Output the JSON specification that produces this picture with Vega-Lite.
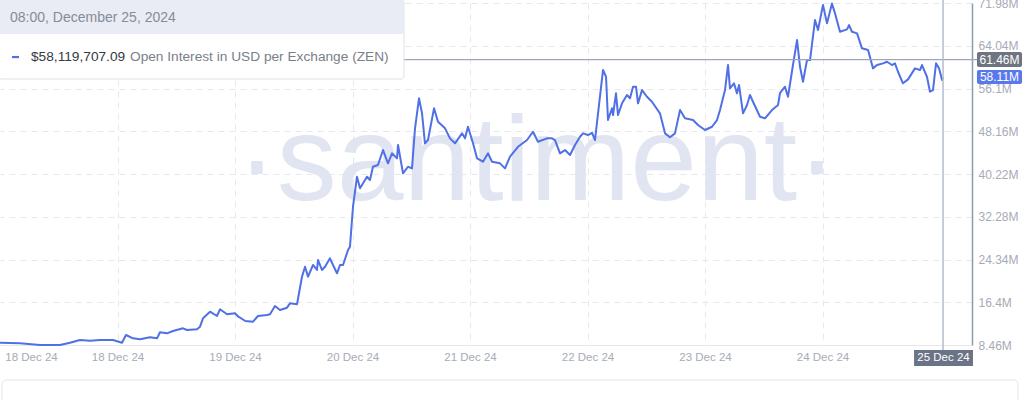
{
  "$schema": "https://vega.github.io/schema/vega-lite/v6.json",
  "width": 972,
  "height": 342,
  "autosize": {"type": "none"},
  "padding": {"left": 0, "top": 3, "right": 52, "bottom": 55},
  "background": "white",
  "config": {"view": {"stroke": null}, "font": "Liberation Sans"},
  "encoding": {
    "x": {
      "field": "t", "type": "temporal", "title": null,
      "scale": {"domain": [{"year": 2024, "month": 12, "date": 17}, {"year": 2024, "month": 12, "date": 25, "hours": 6, "minutes": 32}], "nice": false},
      "axis": {
        "values": [
          {"year": 2024, "month": 12, "date": 17, "hours": 6, "minutes": 20},
          {"year": 2024, "month": 12, "date": 18},
          {"year": 2024, "month": 12, "date": 19},
          {"year": 2024, "month": 12, "date": 20},
          {"year": 2024, "month": 12, "date": 21},
          {"year": 2024, "month": 12, "date": 22},
          {"year": 2024, "month": 12, "date": 23},
          {"year": 2024, "month": 12, "date": 24}
        ],
        "labelExpr": "datum.value < datetime(2024, 11, 17, 12) ? '18 Dec 24' : timeFormat(datum.value, '%d %b %y')",
        "grid": true, "gridDash": [6, 5], "gridColor": "#e6e8ee",
        "gridOpacity": {"condition": {"test": "datum.value < datetime(2024, 11, 17, 12)", "value": 0}, "value": 1},
        "ticks": false, "domainColor": "#e6e8ee",
        "labelColor": "#a6abb6", "labelFontSize": 11.5, "labelPadding": 6,
        "labelOverlap": false, "labelFlush": false
      }
    },
    "y": {
      "field": "v", "type": "quantitative", "title": null,
      "scale": {"domain": [8.46, 71.98], "nice": false, "zero": false},
      "axis": {
        "orient": "right",
        "values": [8.46, 16.4, 24.34, 32.28, 40.22, 48.16, 56.1, 64.04, 71.98],
        "labelExpr": "datum.value + 'M'",
        "grid": true, "gridDash": [6, 5], "gridColor": "#e6e8ee",
        "ticks": false, "domainColor": "#8d9ab4", "domainWidth": 1.5,
        "labelColor": "#a6abb6", "labelFontSize": 12, "labelPadding": 6,
        "labelOverlap": false, "labelFlush": false
      }
    }
  },
  "layer": [
    {
      "data": {"values": [{"t": "2024-12-21T13:41", "v": 35.39, "label": "·santiment·"}]},
      "mark": {"type": "text", "fontSize": 120, "color": "#e1e4f1", "align": "center", "baseline": "alphabetic"},
      "encoding": {"text": {"field": "label"}}
    },
    {
      "data": {"values": [
        {"t": "2024-12-17T00:00", "v": 8.89}, {"t": "2024-12-17T04:05", "v": 8.78}, {"t": "2024-12-17T08:10", "v": 8.46},
        {"t": "2024-12-17T12:15", "v": 8.46}, {"t": "2024-12-17T14:18", "v": 8.89}, {"t": "2024-12-17T16:20", "v": 9.39},
        {"t": "2024-12-17T18:23", "v": 9.26}, {"t": "2024-12-17T20:26", "v": 9.39}, {"t": "2024-12-17T23:05", "v": 9.39},
        {"t": "2024-12-18T00:55", "v": 8.89}, {"t": "2024-12-18T01:44", "v": 10.32}, {"t": "2024-12-18T03:10", "v": 9.70},
        {"t": "2024-12-18T04:36", "v": 9.52}, {"t": "2024-12-18T06:38", "v": 9.89}, {"t": "2024-12-18T08:04", "v": 9.70},
        {"t": "2024-12-18T08:41", "v": 10.82}, {"t": "2024-12-18T10:07", "v": 10.63}, {"t": "2024-12-18T11:20", "v": 11.06},
        {"t": "2024-12-18T13:23", "v": 11.56}, {"t": "2024-12-18T14:12", "v": 11.25}, {"t": "2024-12-18T16:14", "v": 11.38},
        {"t": "2024-12-18T16:51", "v": 11.86}, {"t": "2024-12-18T17:28", "v": 13.42}, {"t": "2024-12-18T18:54", "v": 14.64},
        {"t": "2024-12-18T20:19", "v": 13.85}, {"t": "2024-12-18T20:56", "v": 15.09}, {"t": "2024-12-18T22:22", "v": 14.16},
        {"t": "2024-12-19T00:00", "v": 14.35}, {"t": "2024-12-19T00:41", "v": 13.72}, {"t": "2024-12-19T02:07", "v": 12.92},
        {"t": "2024-12-19T03:41", "v": 12.79}, {"t": "2024-12-19T04:42", "v": 13.85}, {"t": "2024-12-19T06:32", "v": 14.03},
        {"t": "2024-12-19T07:09", "v": 14.16}, {"t": "2024-12-19T08:10", "v": 15.70}, {"t": "2024-12-19T09:11", "v": 14.96},
        {"t": "2024-12-19T10:37", "v": 15.39}, {"t": "2024-12-19T11:14", "v": 16.20}, {"t": "2024-12-19T12:40", "v": 16.02},
        {"t": "2024-12-19T13:41", "v": 21.14}, {"t": "2024-12-19T14:18", "v": 23.00}, {"t": "2024-12-19T14:55", "v": 21.14},
        {"t": "2024-12-19T15:56", "v": 23.32}, {"t": "2024-12-19T16:45", "v": 22.39}, {"t": "2024-12-19T16:57", "v": 24.25},
        {"t": "2024-12-19T17:46", "v": 22.39}, {"t": "2024-12-19T18:23", "v": 23.00}, {"t": "2024-12-19T19:24", "v": 24.56},
        {"t": "2024-12-19T20:01", "v": 23.32}, {"t": "2024-12-19T20:50", "v": 21.78}, {"t": "2024-12-19T21:27", "v": 23.32},
        {"t": "2024-12-19T22:04", "v": 23.32}, {"t": "2024-12-19T23:05", "v": 26.10}, {"t": "2024-12-19T23:29", "v": 26.71},
        {"t": "2024-12-20T00:06", "v": 34.14}, {"t": "2024-12-20T00:55", "v": 39.71}, {"t": "2024-12-20T01:32", "v": 37.56},
        {"t": "2024-12-20T02:58", "v": 39.71}, {"t": "2024-12-20T03:34", "v": 39.10}, {"t": "2024-12-20T04:11", "v": 41.57},
        {"t": "2024-12-20T05:12", "v": 41.89}, {"t": "2024-12-20T06:14", "v": 44.67}, {"t": "2024-12-20T07:15", "v": 42.20},
        {"t": "2024-12-20T08:04", "v": 44.06}, {"t": "2024-12-20T09:05", "v": 43.13}, {"t": "2024-12-20T09:18", "v": 45.60},
        {"t": "2024-12-20T10:19", "v": 40.35}, {"t": "2024-12-20T11:20", "v": 41.57}, {"t": "2024-12-20T12:09", "v": 41.27},
        {"t": "2024-12-20T12:46", "v": 48.70}, {"t": "2024-12-20T13:35", "v": 54.27}, {"t": "2024-12-20T14:12", "v": 51.49},
        {"t": "2024-12-20T14:48", "v": 45.92}, {"t": "2024-12-20T15:25", "v": 46.53}, {"t": "2024-12-20T16:39", "v": 52.42},
        {"t": "2024-12-20T17:28", "v": 49.93}, {"t": "2024-12-20T18:54", "v": 48.70}, {"t": "2024-12-20T19:55", "v": 46.84},
        {"t": "2024-12-20T20:56", "v": 45.92}, {"t": "2024-12-20T22:22", "v": 47.77}, {"t": "2024-12-20T22:59", "v": 46.84},
        {"t": "2024-12-20T23:35", "v": 49.00}, {"t": "2024-12-21T00:37", "v": 45.92}, {"t": "2024-12-21T01:26", "v": 43.13},
        {"t": "2024-12-21T02:39", "v": 42.50}, {"t": "2024-12-21T03:41", "v": 44.06}, {"t": "2024-12-21T04:30", "v": 42.50},
        {"t": "2024-12-21T06:08", "v": 42.20}, {"t": "2024-12-21T07:09", "v": 41.27}, {"t": "2024-12-21T08:10", "v": 43.43},
        {"t": "2024-12-21T09:48", "v": 45.28}, {"t": "2024-12-21T11:39", "v": 46.53}, {"t": "2024-12-21T12:52", "v": 48.07},
        {"t": "2024-12-21T13:53", "v": 46.21}, {"t": "2024-12-21T15:44", "v": 46.84}, {"t": "2024-12-21T16:45", "v": 46.84},
        {"t": "2024-12-21T17:22", "v": 46.53}, {"t": "2024-12-21T18:23", "v": 44.06}, {"t": "2024-12-21T19:24", "v": 44.67},
        {"t": "2024-12-21T20:26", "v": 43.74}, {"t": "2024-12-21T21:27", "v": 45.60}, {"t": "2024-12-21T22:28", "v": 47.14},
        {"t": "2024-12-21T23:05", "v": 47.77}, {"t": "2024-12-22T00:06", "v": 47.46}, {"t": "2024-12-22T00:55", "v": 47.88},
        {"t": "2024-12-22T01:32", "v": 46.53}, {"t": "2024-12-22T02:09", "v": 51.49}, {"t": "2024-12-22T03:10", "v": 59.53},
        {"t": "2024-12-22T03:47", "v": 58.28}, {"t": "2024-12-22T04:11", "v": 50.24}, {"t": "2024-12-22T05:00", "v": 52.42},
        {"t": "2024-12-22T05:13", "v": 51.17}, {"t": "2024-12-22T05:49", "v": 55.20}, {"t": "2024-12-22T06:14", "v": 51.17},
        {"t": "2024-12-22T07:03", "v": 53.34}, {"t": "2024-12-22T08:04", "v": 54.89}, {"t": "2024-12-22T08:41", "v": 54.27},
        {"t": "2024-12-22T09:18", "v": 56.43}, {"t": "2024-12-22T09:54", "v": 56.43}, {"t": "2024-12-22T10:19", "v": 53.34},
        {"t": "2024-12-22T11:08", "v": 55.81}, {"t": "2024-12-22T12:09", "v": 54.57}, {"t": "2024-12-22T13:10", "v": 53.64},
        {"t": "2024-12-22T14:48", "v": 51.49}, {"t": "2024-12-22T15:50", "v": 47.77}, {"t": "2024-12-22T16:51", "v": 47.03},
        {"t": "2024-12-22T17:52", "v": 47.77}, {"t": "2024-12-22T18:54", "v": 52.10}, {"t": "2024-12-22T19:55", "v": 50.56},
        {"t": "2024-12-22T21:33", "v": 50.24}, {"t": "2024-12-22T22:34", "v": 49.31}, {"t": "2024-12-23T00:00", "v": 48.39},
        {"t": "2024-12-23T01:26", "v": 49.00}, {"t": "2024-12-23T02:27", "v": 50.24}, {"t": "2024-12-23T03:04", "v": 52.10},
        {"t": "2024-12-23T04:05", "v": 55.81}, {"t": "2024-12-23T04:42", "v": 60.46}, {"t": "2024-12-23T05:06", "v": 56.13},
        {"t": "2024-12-23T05:55", "v": 57.06}, {"t": "2024-12-23T06:32", "v": 55.20}, {"t": "2024-12-23T06:57", "v": 56.74},
        {"t": "2024-12-23T07:46", "v": 51.49}, {"t": "2024-12-23T08:35", "v": 53.03}, {"t": "2024-12-23T09:11", "v": 54.89},
        {"t": "2024-12-23T09:48", "v": 53.64}, {"t": "2024-12-23T11:14", "v": 50.86}, {"t": "2024-12-23T12:15", "v": 50.56},
        {"t": "2024-12-23T13:41", "v": 52.10}, {"t": "2024-12-23T14:55", "v": 53.03}, {"t": "2024-12-23T15:19", "v": 55.26},
        {"t": "2024-12-23T16:20", "v": 56.43}, {"t": "2024-12-23T16:57", "v": 54.57}, {"t": "2024-12-23T17:58", "v": 60.46},
        {"t": "2024-12-23T18:48", "v": 65.10}, {"t": "2024-12-23T19:24", "v": 60.14}, {"t": "2024-12-23T20:01", "v": 57.36},
        {"t": "2024-12-23T20:50", "v": 61.39}, {"t": "2024-12-23T21:27", "v": 61.39}, {"t": "2024-12-23T22:28", "v": 68.81},
        {"t": "2024-12-23T23:05", "v": 66.96}, {"t": "2024-12-24T00:06", "v": 71.60}, {"t": "2024-12-24T00:55", "v": 68.20},
        {"t": "2024-12-24T01:56", "v": 71.90}, {"t": "2024-12-24T02:33", "v": 70.06}, {"t": "2024-12-24T03:34", "v": 66.64},
        {"t": "2024-12-24T05:00", "v": 67.09}, {"t": "2024-12-24T05:25", "v": 67.88}, {"t": "2024-12-24T06:01", "v": 66.64},
        {"t": "2024-12-24T07:03", "v": 66.34}, {"t": "2024-12-24T08:04", "v": 63.56}, {"t": "2024-12-24T09:18", "v": 63.24},
        {"t": "2024-12-24T10:19", "v": 59.84}, {"t": "2024-12-24T11:08", "v": 60.46}, {"t": "2024-12-24T12:22", "v": 60.77},
        {"t": "2024-12-24T13:10", "v": 61.07}, {"t": "2024-12-24T14:12", "v": 60.46}, {"t": "2024-12-24T14:48", "v": 60.77},
        {"t": "2024-12-24T15:25", "v": 59.21}, {"t": "2024-12-24T16:26", "v": 57.06}, {"t": "2024-12-24T17:28", "v": 57.80},
        {"t": "2024-12-24T18:53", "v": 59.84}, {"t": "2024-12-24T19:55", "v": 59.53}, {"t": "2024-12-24T20:19", "v": 60.46},
        {"t": "2024-12-24T21:20", "v": 58.28}, {"t": "2024-12-24T21:57", "v": 55.50}, {"t": "2024-12-24T22:34", "v": 55.81},
        {"t": "2024-12-24T23:11", "v": 60.77}, {"t": "2024-12-24T23:48", "v": 59.84}, {"t": "2024-12-25T00:25", "v": 57.67},
        {"t": "2024-12-25T00:37", "v": 58.11}
      ]},
      "mark": {"type": "line", "color": "#5070e6", "strokeWidth": 2, "strokeJoin": "round"}
    },
    {
      "data": {"values": [{"t": "2024-12-16T23:48", "t2": "2024-12-25T07:33", "v": 61.46}]},
      "mark": {"type": "rule", "color": "#9ea6b7", "strokeWidth": 1.2},
      "encoding": {"x2": {"field": "t2"}}
    },
    {
      "data": {"values": [{"t": "2024-12-25T00:37", "v": 72.6, "v2": 7.53}]},
      "mark": {"type": "rule", "color": "#b4bccc", "strokeWidth": 1.5},
      "encoding": {"y2": {"field": "v2"}}
    },
    {
      "data": {"values": [{"t": "2024-12-16T23:48", "t2": "2024-12-20T10:31", "v": 72.6, "v2": 57.86}]},
      "mark": {"type": "rect", "fill": "white", "stroke": "#dfe2e8", "strokeWidth": 1, "cornerRadius": 3},
      "encoding": {"x2": {"field": "t2"}, "y2": {"field": "v2"}}
    },
    {
      "data": {"values": [{"t": "2024-12-16T23:48", "t2": "2024-12-20T10:31", "v": 72.6, "v2": 66.21}]},
      "mark": {"type": "rect", "fill": "#e9ebf5"},
      "encoding": {"x2": {"field": "t2"}, "y2": {"field": "v2"}}
    },
    {
      "data": {"values": [{"t": "2024-12-17T02:27", "t2": "2024-12-17T03:53", "v": 61.94}]},
      "mark": {"type": "rule", "color": "#5070e6", "strokeWidth": 2.2},
      "encoding": {"x2": {"field": "t2"}}
    },
    {
      "data": {"values": [{"t": "2024-12-17T02:03", "v": 69.18, "label": "08:00, December 25, 2024"}]},
      "mark": {"type": "text", "fontSize": 14, "color": "#878b96", "align": "left", "baseline": "middle"},
      "encoding": {"text": {"field": "label"}}
    },
    {
      "data": {"values": [{"t": "2024-12-17T06:20", "v": 61.94, "label": "$58,119,707.09"}]},
      "mark": {"type": "text", "fontSize": 13.7, "color": "#363a44", "align": "left", "baseline": "middle"},
      "encoding": {"text": {"field": "label"}}
    },
    {
      "data": {"values": [{"t": "2024-12-18T02:33", "v": 61.94, "label": "Open Interest in USD per Exchange (ZEN)"}]},
      "mark": {"type": "text", "fontSize": 13.7, "color": "#7a7e89", "align": "left", "baseline": "middle"},
      "encoding": {"text": {"field": "label"}}
    },
    {
      "data": {"values": [{"t": "2024-12-25T07:33", "t2": "2024-12-25T16:45", "v": 62.87, "v2": 60.08}]},
      "mark": {"type": "rect", "fill": "#6f7482", "cornerRadius": 2},
      "encoding": {"x2": {"field": "t2"}, "y2": {"field": "v2"}}
    },
    {
      "data": {"values": [{"t": "2024-12-25T07:33", "t2": "2024-12-25T16:45", "v": 59.53, "v2": 56.93}]},
      "mark": {"type": "rect", "fill": "#5a78ee", "cornerRadius": 2},
      "encoding": {"x2": {"field": "t2"}, "y2": {"field": "v2"}}
    },
    {
      "data": {"values": [{"t": "2024-12-24T18:42", "t2": "2024-12-25T06:44", "v": 7.53, "v2": 4.56}]},
      "mark": {"type": "rect", "fill": "#6b7386"},
      "encoding": {"x2": {"field": "t2"}, "y2": {"field": "v2"}}
    },
    {
      "data": {"values": [
        {"t": "2024-12-25T12:09", "v": 61.48, "label": "61.46M"},
        {"t": "2024-12-25T12:09", "v": 58.23, "label": "58.11M"}
      ]},
      "mark": {"type": "text", "fontSize": 12, "color": "white", "align": "center", "baseline": "middle"},
      "encoding": {"text": {"field": "label"}}
    },
    {
      "data": {"values": [{"t": "2024-12-25T00:43", "v": 6.05, "label": "25 Dec 24"}]},
      "mark": {"type": "text", "fontSize": 11.5, "color": "white", "align": "center", "baseline": "middle"},
      "encoding": {"text": {"field": "label"}}
    },
    {
      "data": {"values": [{"t": "2024-12-17T00:25", "t2": "2024-12-25T15:56", "v": 1.96, "v2": -2.2}]},
      "mark": {"type": "rect", "fill": "white", "stroke": "#e6e6e9", "strokeWidth": 1, "cornerRadius": 4},
      "encoding": {"x2": {"field": "t2"}, "y2": {"field": "v2"}}
    }
  ]
}
